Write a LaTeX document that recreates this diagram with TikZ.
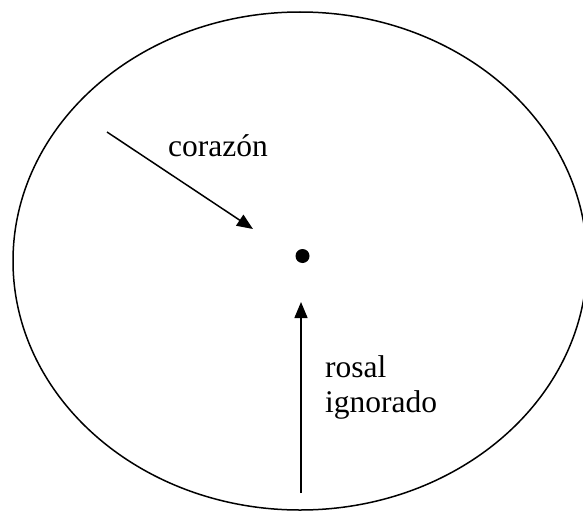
\documentclass[tikz,border=0pt]{standalone}
\usepackage{fontspec}
\setmainfont{Liberation Serif}
\usetikzlibrary{arrows.meta}
\begin{document}
\begin{tikzpicture}[x=1pt,y=-1pt,
  line/.style={line width=1.5pt},
  arr/.style={line, -{Triangle[length=16pt,width=13pt]}},
  lbl/.style={inner sep=0pt, font=\fontsize{31.5}{35}\selectfont, align=left}]
\useasboundingbox (0,0) rectangle (583,511);
\draw[line] (300,261) ellipse [x radius=287, y radius=249];
\node[circle, fill=black, inner sep=0pt, minimum size=14pt] (dot) at (302.5,256) {};
\coordinate (cs) at (107,132);
\coordinate (ce) at (253,229);
\draw[arr] (cs) -- (ce);
\coordinate (rs) at (301,493);
\coordinate (re) at (301,302);
\draw[arr] (rs) -- (re);
\node[lbl, anchor=base west] (corazon) at (168,156) {corazón};
\node[lbl, anchor=base west] (rosal) at (325,412) {rosal\\ignorado};
\end{tikzpicture}
\end{document}
